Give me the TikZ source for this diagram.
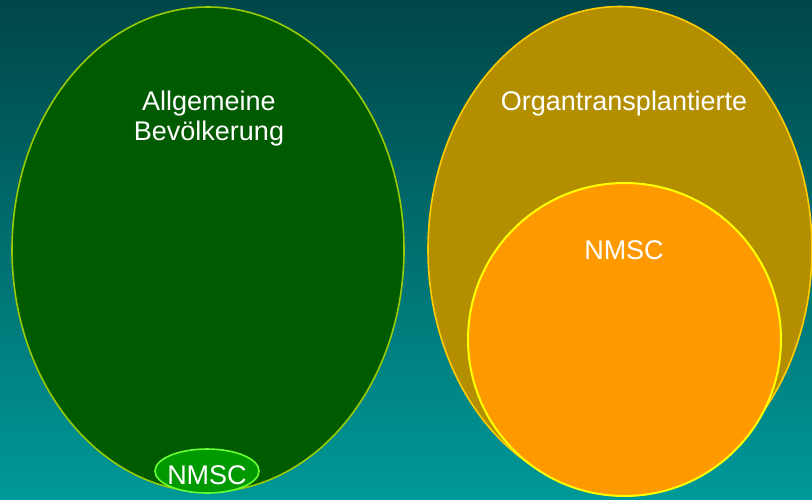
\documentclass[tikz,border=0pt]{standalone}
\usepackage{fontspec}
\setmainfont{Liberation Sans}
\usetikzlibrary{shapes.geometric}
\definecolor{bgtop}{RGB}{0,70,72}
\definecolor{bgbot}{RGB}{0,152,152}
\definecolor{popfill}{RGB}{0,90,0}
\definecolor{popline}{RGB}{153,204,0}
\definecolor{smallfill}{RGB}{0,153,0}
\definecolor{smallline}{RGB}{102,255,51}
\definecolor{txfill}{RGB}{179,143,0}
\definecolor{txline}{RGB}{255,204,0}
\definecolor{nmscfill}{RGB}{255,153,0}
\definecolor{nmscline}{RGB}{255,255,0}
\tikzset{
  blob/.style={ellipse, inner sep=0pt, outer sep=0pt},
  lbl/.style={text=white, font=\fontsize{27}{30}\selectfont, align=center, inner sep=0pt}
}
\begin{document}
\begin{tikzpicture}[x=1pt, y=-1pt]
  \useasboundingbox (0,0) rectangle (812,499);
  \shade[top color=bgtop, bottom color=bgbot] (0,0) rectangle (812,499);
  % general population with its small NMSC share
  \node[blob, draw=popline, line width=1.6pt, fill=popfill,
        minimum width=392pt, minimum height=485pt] (pop) at (208,249.5) {};
  \node[blob, draw=smallline, line width=1.6pt, fill=smallfill,
        minimum width=104pt, minimum height=44pt] (popnmsc) at (207,471) {};
  % transplant recipients with their large NMSC share
  \node[blob, draw=txline, line width=1.6pt, fill=txfill,
        minimum width=384pt, minimum height=486pt] (tx) at (620,249.5) {};
  \node[circle, inner sep=0pt, draw=nmscline, line width=2pt, fill=nmscfill,
        minimum size=313pt] (txnmsc) at (624.5,339.5) {};
  % labels
  \node[lbl, anchor=base] (poplabel) at (209,140) {Allgemeine\\Bevölkerung};
  \node[lbl, anchor=base] (txlabel) at (624,110) {Organtransplantierte};
  \node[lbl, anchor=base] (txnmsclabel) at (624,259) {NMSC};
  \node[lbl, anchor=base] (popnmsclabel) at (207,484) {NMSC};
\end{tikzpicture}
\end{document}
